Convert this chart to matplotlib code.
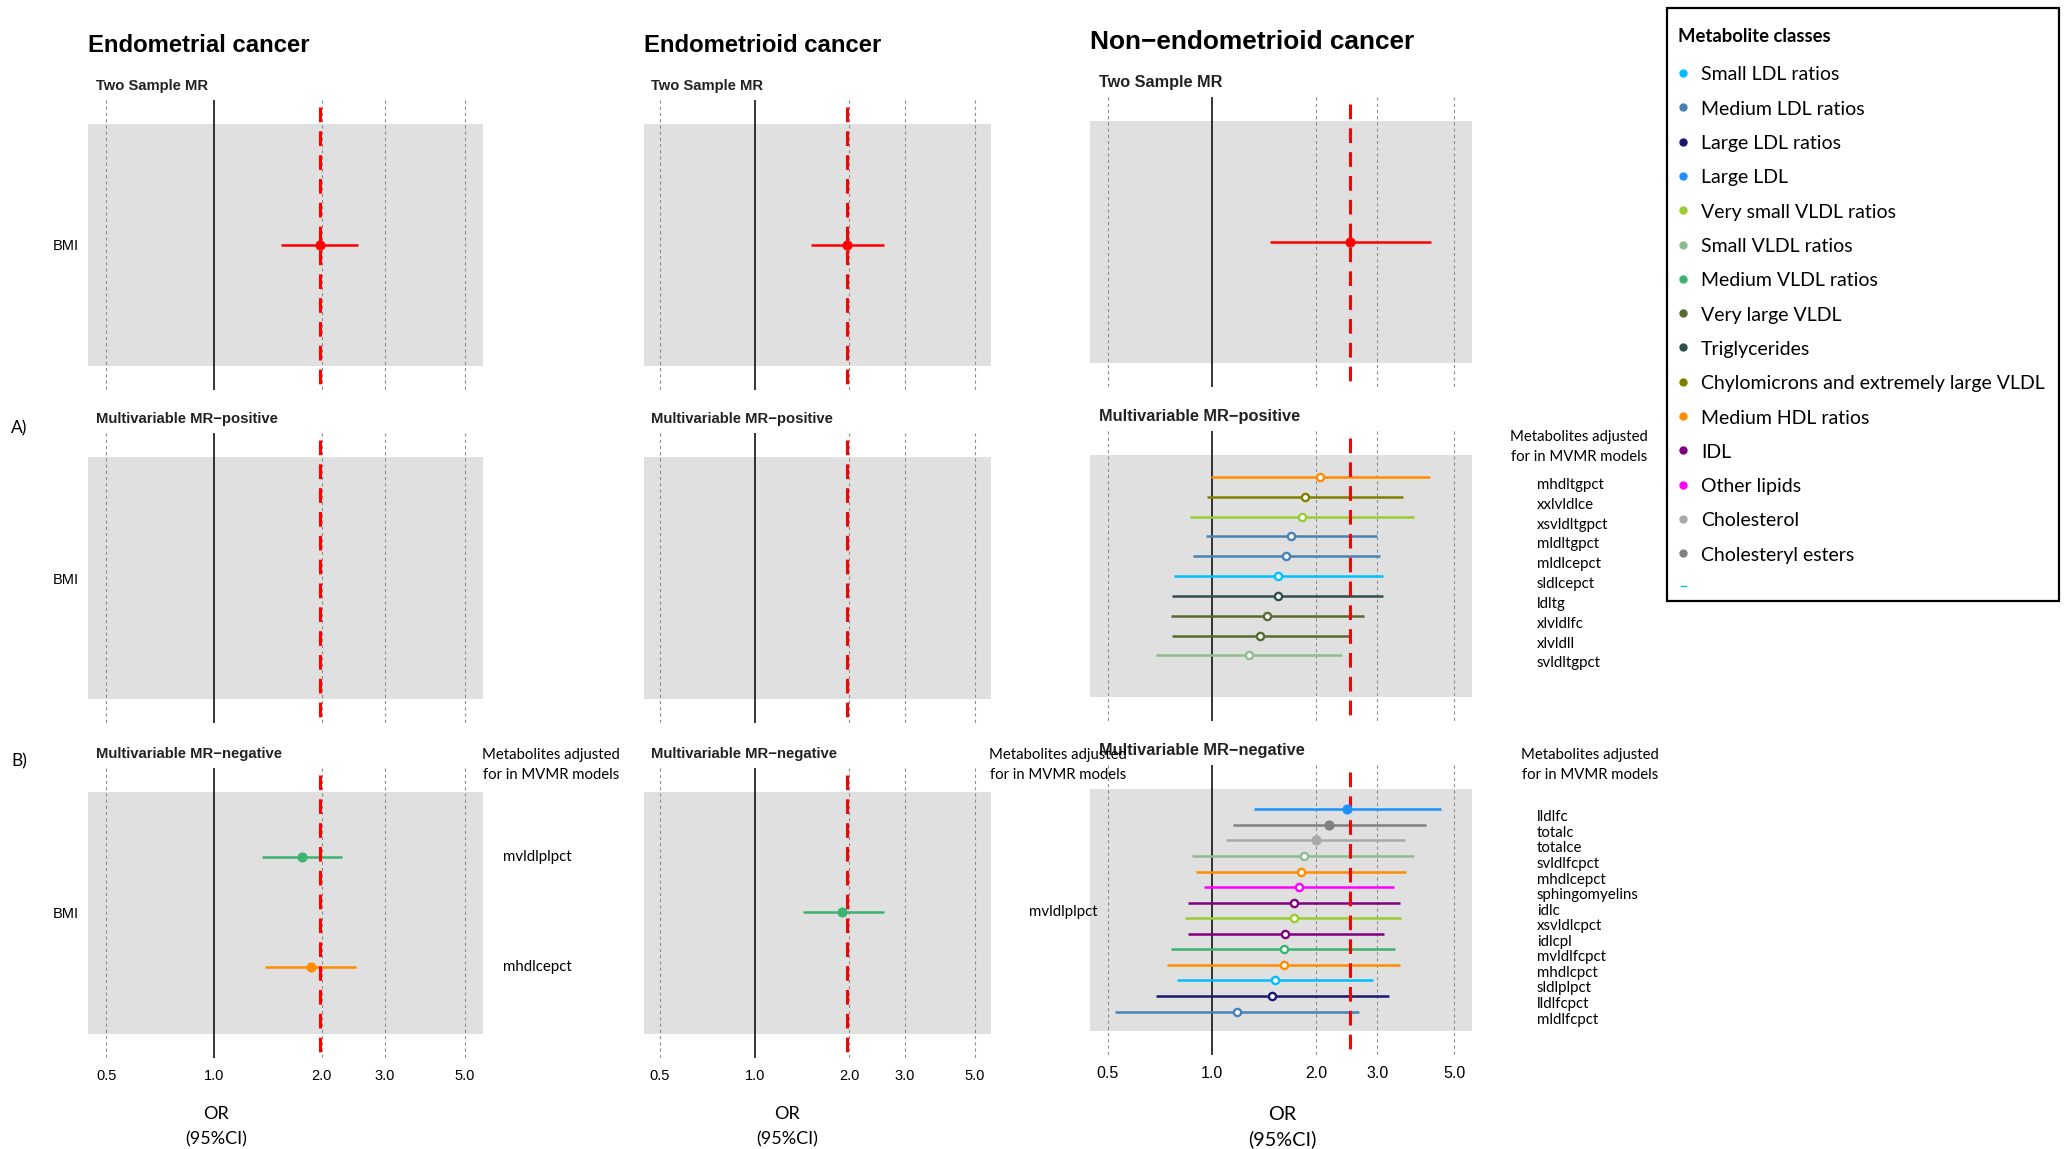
import matplotlib
matplotlib.use('Agg')
import matplotlib.pyplot as plt
import numpy as np

W, H = 2067, 1149

#Data
#-----------------------------------------------------------
cancer_types = ['Endometrial cancer', 'Endometrioid cancer', 'Non\u2212endometrioid cancer']

tsmr_or = [1.97, 1.97, 2.51]
tsmr_lo = [1.54, 1.51, 1.47]
tsmr_hi = [2.52, 2.58, 4.29]

pos_nonendo_names = ['mhdltgpct', 'xxlvldlce', 'xsvldltgpct', 'mldltgpct', 'mldlcepct',
                     'sldlcepct', 'ldltg', 'xlvldlfc', 'xlvldll', 'svldltgpct']
pos_nonendo_or = [2.05, 1.86, 1.82, 1.69, 1.64, 1.55, 1.55, 1.44, 1.38, 1.28]
pos_nonendo_lo = [0.995, 0.97, 0.865, 0.963, 0.883, 0.777, 0.767, 0.76, 0.766, 0.69]
pos_nonendo_hi = [4.25, 3.55, 3.82, 2.99, 3.05, 3.11, 3.11, 2.75, 2.51, 2.38]
pos_nonendo_class = ['Medium HDL ratios', 'Chylomicrons and extremely large VLDL', 'Very small VLDL ratios',
                     'Medium LDL ratios', 'Medium LDL ratios', 'Small LDL ratios', 'Triglycerides',
                     'Very large VLDL', 'Very large VLDL', 'Small VLDL ratios']

neg_endometrial_names = ['mvldlplpct', 'mhdlcepct']
neg_endometrial_or = [1.76, 1.86]
neg_endometrial_lo = [1.36, 1.39]
neg_endometrial_hi = [2.27, 2.49]
neg_endometrial_class = ['Medium VLDL ratios', 'Medium HDL ratios']

neg_endometrioid_names = ['mvldlplpct']
neg_endometrioid_or = [1.90]
neg_endometrioid_lo = [1.42]
neg_endometrioid_hi = [2.57]
neg_endometrioid_class = ['Medium VLDL ratios']

neg_nonendo_names = ['lldlfc', 'totalc', 'totalce', 'svldlfcpct', 'mhdlcepct', 'sphingomyelins', 'idlc',
                     'xsvldlcpct', 'idlcpl', 'mvldlfcpct', 'mhdlcpct', 'sldlplpct', 'lldlfcpct', 'mldlfcpct']
neg_nonendo_or = [2.45, 2.18, 2.00, 1.84, 1.81, 1.78, 1.72, 1.72, 1.63, 1.61, 1.61, 1.52, 1.49, 1.18]
neg_nonendo_lo = [1.32, 1.15, 1.10, 0.878, 0.90, 0.95, 0.852, 0.839, 0.852, 0.764, 0.741, 0.791, 0.69, 0.527]
neg_nonendo_hi = [4.57, 4.16, 3.61, 3.83, 3.64, 3.35, 3.48, 3.51, 3.13, 3.38, 3.49, 2.91, 3.25, 2.66]
neg_nonendo_class = ['Large LDL', 'Cholesteryl esters', 'Cholesterol', 'Small VLDL ratios', 'Medium HDL ratios',
                     'Other lipids', 'IDL', 'Very small VLDL ratios', 'IDL', 'Medium VLDL ratios',
                     'Medium HDL ratios', 'Small LDL ratios', 'Large LDL ratios', 'Medium LDL ratios']
neg_nonendo_filled = [True, True, True] + [False] * 11

legend_classes = ['Small LDL ratios', 'Medium LDL ratios', 'Large LDL ratios', 'Large LDL',
                  'Very small VLDL ratios', 'Small VLDL ratios', 'Medium VLDL ratios', 'Very large VLDL',
                  'Triglycerides', 'Chylomicrons and extremely large VLDL', 'Medium HDL ratios', 'IDL',
                  'Other lipids', 'Cholesterol', 'Cholesteryl esters']
legend_colors = ['#00BFFF', '#4682B4', '#191970', '#1E90FF', '#9ACD32', '#8FBC8F', '#3CB371', '#556B2F',
                 '#2F4F4F', '#808000', '#FF8C00', '#800080', '#FF00FF', '#A9A9A9', '#808080']
class_color = dict(zip(legend_classes, legend_colors))

x_ticks = [0.5, 1.0, 2.0, 3.0, 5.0]
x_tick_labels = ['0.5', '1.0', '2.0', '3.0', '5.0']
#-----------------------------------------------------------

R_FONT = 'Liberation Sans'
C_FONT = 'Lato'


def px_axes(fig, x0, x1, y0, y1):
    return fig.add_axes([x0 / W, 1 - y1 / H, (x1 - x0) / W, (y1 - y0) / H])


def draw_panel(ax, rows_y, ors, los, his, colors, filled, red_x, bottom, tick_size):

    #Base of forest panel
    #-----------------------------------------------------------
    ax.set_xscale('log')
    ax.set_xlim(0.445, 5.63)
    ax.set_ylim(290, 0)
    ax.set_facecolor('none')
    for s in ax.spines.values():
        s.set_visible(False)
    ax.axhspan(24, 266, color='#E0E0E0', lw=0, zorder=0)
    for t in [0.5, 2.0, 3.0, 5.0]:
        ax.plot([t, t], [0, 290], color='#8C8C8C', lw=0.8, ls=(0, (2.8, 2.8)), zorder=1)
    ax.plot([1, 1], [0, 290], color='black', lw=1.1, zorder=2)
    ax.plot([red_x, red_x], [7, 290], color='#FF0000', lw=2.2, ls=(0, (4.8, 3.0)), zorder=4)
    #-----------------------------------------------------------

    #CIs and points
    #-----------------------------------------------------------
    ax.hlines(rows_y, los, his, colors=colors, lw=1.8, zorder=3)
    for y, o, c, f in zip(rows_y, ors, colors, filled):
        if f:
            ax.plot(o, y, 'o', ms=6.3, mfc=c, mec=c, mew=1, zorder=5)
        else:
            ax.plot(o, y, 'o', ms=5.2, mfc='white', mec=c, mew=1.7, zorder=5)
    #-----------------------------------------------------------

    #Ticks
    #-----------------------------------------------------------
    ax.minorticks_off()
    ax.set_yticks([])
    ax.set_xticks(x_ticks)
    if bottom:
        ax.set_xticklabels(x_tick_labels, fontsize=tick_size, family=R_FONT)
    else:
        ax.set_xticklabels([])
    ax.tick_params(axis='x', length=0, pad=8)
    #-----------------------------------------------------------


fig = plt.figure(figsize=(W / 100, H / 100), dpi=100)

col_x = [(88, 483), (644, 991), (1090, 1472)]
col_tops = [[100, 433, 768], [100, 433, 768], [97, 431, 765]]
#third column was exported a bit larger
col_scale = [1.0, 1.0, 1.1]

#Make panels
#-----------------------------------------------------------
for c in range(3):
    x0, x1 = col_x[c]
    tops = col_tops[c]
    ts = 10.5 * col_scale[c]

    #Two sample MR
    ax = px_axes(fig, x0, x1, tops[0], tops[0] + 290)
    draw_panel(ax, [145], [tsmr_or[c]], [tsmr_lo[c]], [tsmr_hi[c]], ['#FF0000'], [True], tsmr_or[c], False, ts)

    #MVMR positive
    ax = px_axes(fig, x0, x1, tops[1], tops[1] + 290)
    if c == 2:
        rows = 46 + 19.83 * np.arange(len(pos_nonendo_names))
        cols = [class_color[k] for k in pos_nonendo_class]
        draw_panel(ax, rows, pos_nonendo_or, pos_nonendo_lo, pos_nonendo_hi, cols,
                   [False] * len(rows), tsmr_or[c], False, ts)
    else:
        draw_panel(ax, [], [], [], [], [], [], tsmr_or[c], False, ts)

    #MVMR negative
    ax = px_axes(fig, x0, x1, tops[2], tops[2] + 290)
    if c == 0:
        rows = [89, 199]
        draw_panel(ax, rows, neg_endometrial_or, neg_endometrial_lo, neg_endometrial_hi,
                   [class_color[k] for k in neg_endometrial_class], [True, True], tsmr_or[c], True, ts)
    elif c == 1:
        rows = [144]
        draw_panel(ax, rows, neg_endometrioid_or, neg_endometrioid_lo, neg_endometrioid_hi,
                   [class_color[k] for k in neg_endometrioid_class], [True], tsmr_or[c], True, ts)
    else:
        rows = 44.3 + 15.56 * np.arange(len(neg_nonendo_names))
        draw_panel(ax, rows, neg_nonendo_or, neg_nonendo_lo, neg_nonendo_hi,
                   [class_color[k] for k in neg_nonendo_class], neg_nonendo_filled, tsmr_or[c], True, ts)
#-----------------------------------------------------------

#Overlay for texts (pixel coordinates)
#-----------------------------------------------------------
tx = fig.add_axes([0, 0, 1, 1], zorder=10)
tx.set_xlim(0, W)
tx.set_ylim(H, 0)
tx.axis('off')

title_y = [45, 45, 42]
sub_x = [96, 651, 1099]
for c in range(3):
    k = col_scale[c]
    tx.text(col_x[c][0], title_y[c], cancer_types[c], fontsize=17.2 * k, fontweight='bold',
            family=R_FONT, ha='left', va='center')
    tops = col_tops[c]
    tx.text(sub_x[c], tops[0] - 14, 'Two Sample MR', fontsize=10.6 * k, fontweight='bold',
            family=R_FONT, color='#222222', ha='left', va='center')
    tx.text(sub_x[c], tops[1] - 14, 'Multivariable MR\u2212positive', fontsize=10.7 * k, fontweight='bold',
            family=R_FONT, color='#222222', ha='left', va='center')
    tx.text(sub_x[c], tops[2] - 14, 'Multivariable MR\u2212negative', fontsize=10.7 * k, fontweight='bold',
            family=R_FONT, color='#222222', ha='left', va='center')

#BMI labels
for y in [246, 580, 914]:
    tx.text(79, y, 'BMI', fontsize=10.5, family=R_FONT, ha='right', va='center')

tx.text(11, 428, 'A)', fontsize=12.5, family=C_FONT, ha='left', va='center')
tx.text(11, 761, 'B)', fontsize=12.5, family=C_FONT, ha='left', va='center')

#OR axis titles
for xc, k in zip([216, 787, 1282], col_scale):
    tx.text(xc, 1114, 'OR', fontsize=13 * k, family=C_FONT, ha='center', va='center')
    tx.text(xc, 1139, '(95%CI)', fontsize=13 * k, family=C_FONT, ha='center', va='center')

#Metabolites adjusted headers
for xc, y in [(551, 755), (1058, 755), (1579, 437), (1590, 755)]:
    tx.text(xc, y, 'Metabolites adjusted', fontsize=10.7, family=C_FONT, ha='center', va='center')
    tx.text(xc, y + 20, 'for in MVMR models', fontsize=10.7, family=C_FONT, ha='center', va='center')

#Metabolite labels
for name, y in zip(neg_endometrial_names, [89, 199]):
    tx.text(503, col_tops[0][2] + y, name, fontsize=10.8, family=C_FONT, ha='left', va='center')
for name, y in zip(neg_endometrioid_names, [144]):
    tx.text(1029, col_tops[1][2] + y, name, fontsize=10.8, family=C_FONT, ha='left', va='center')
for i, name in enumerate(pos_nonendo_names):
    tx.text(1537, col_tops[2][1] + 46 + 19.83 * i + 8, name, fontsize=10.8, family=C_FONT,
            ha='left', va='center')
for i, name in enumerate(neg_nonendo_names):
    tx.text(1537, col_tops[2][2] + 44.3 + 15.56 * i + 8, name, fontsize=10.8, family=C_FONT,
            ha='left', va='center')
#-----------------------------------------------------------

#Legend box
#-----------------------------------------------------------
box = plt.Rectangle((1667, 8), 2059 - 1667, 601 - 8, fill=False, lw=1.6, ec='black')
tx.add_patch(box)
tx.text(1678, 37, 'Metabolite classes', fontsize=13.3, fontweight='bold', family=C_FONT,
        ha='left', va='center')
for i, (name, col) in enumerate(zip(legend_classes, legend_colors)):
    y = 75 + 34.3 * i
    tx.plot(1683, y - 2, 'o', ms=5, color=col)
    tx.text(1701, y, name, fontsize=14, family=C_FONT, ha='left', va='center')
tx.plot([1681, 1686], [586, 586], color='#00BFFF', lw=1)
#-----------------------------------------------------------

fig.savefig('out.png', dpi=100)
